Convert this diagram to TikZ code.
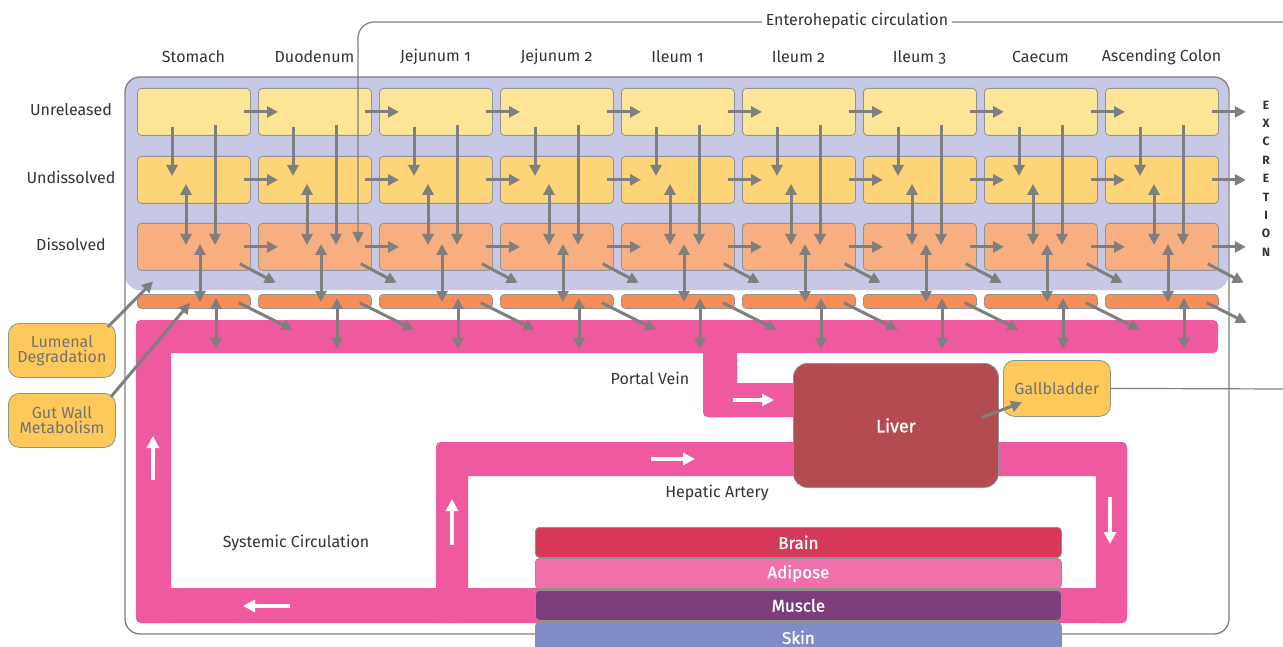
\documentclass[tikz,border=0pt]{standalone}
\usepackage{fontspec}
\setmainfont[Numbers=OldStyle]{Fira Sans}
\newfontfamily\semib[FakeBold=1.2]{Fira Sans}
\usetikzlibrary{arrows.meta}

\definecolor{lav}{HTML}{C6C8E5}
\definecolor{unrel}{HTML}{FDE598}
\definecolor{undis}{HTML}{FDD478}
\definecolor{dis}{HTML}{F7AE80}
\definecolor{gutw}{HTML}{F58F57}
\definecolor{blood}{HTML}{EF59A0}
\definecolor{liverc}{HTML}{B34C50}
\definecolor{gall}{HTML}{FDC95A}
\definecolor{brainc}{HTML}{D63957}
\definecolor{adip}{HTML}{F070A9}
\definecolor{musc}{HTML}{7B3E7B}
\definecolor{skinc}{HTML}{7F8CC5}
\definecolor{arr}{HTML}{7F7F7F}
\definecolor{txt}{HTML}{333333}

\tikzset{
  box/.style={draw=arr!85, line width=0.8pt, rounded corners=4pt, anchor=north west, inner sep=0pt},
  flow/.style={draw=arr, line width=3pt, ->},
  flowb/.style={draw=arr, line width=3pt, <->},
  wflow/.style={draw=white, line width=3.2pt, -{Triangle[length=12pt,width=12pt]}},
  organ/.style={box, minimum width=526pt, minimum height=30pt, text=white, font=\semib\fontsize{17}{18}\selectfont},
  tag/.style={box, fill=gall, rounded corners=11pt, minimum width=107pt, minimum height=54pt, align=center, text=arr!90!black, font=\fontsize{16}{17}\selectfont},
  bloodbar/.style={fill=blood, rounded corners=5pt}
}

\begin{document}
\begin{tikzpicture}[x=1pt, y=-1pt, font=\fontsize{16}{18}\selectfont, text=txt, line join=round, >={Triangle[length=11pt,width=11pt]}]
  \def\bw{113pt} \def\gap{121} \def\xo{137}
  \useasboundingbox (0,0) rectangle (1283,647);

  % lumen panel and frame
  \node[fill=lav, rounded corners=15pt, minimum width=1103pt, minimum height=213pt, anchor=north west, inner sep=0pt] (gut) at (125,77) {};
  \draw[arr, line width=1.3pt, rounded corners=15pt] (125,77) rectangle (1229,634);

  % compartments
  \foreach \i in {1,...,9}{
    \pgfmathsetmacro\x{\xo+\gap*(\i-1)}
    \node[box, fill=unrel, minimum width=\bw, minimum height=47pt] (u\i) at (\x,88) {};
    \node[box, fill=undis, minimum width=\bw, minimum height=47pt] (n\i) at (\x,156) {};
    \node[box, fill=dis, minimum width=\bw, minimum height=47pt] (d\i) at (\x,223) {};
    \node[box, fill=gutw, minimum width=\bw, minimum height=14pt] (g\i) at (\x,294) {};
  }

  % blood vessels
  \fill[bloodbar] (136,320) rectangle (1218,353);
  \fill[bloodbar] (136,320) rectangle (171,623);
  \fill[bloodbar] (136,588) rectangle (1127,623);
  \fill[bloodbar] (436,442) rectangle (468,623);
  \fill[bloodbar] (436,442) rectangle (1127,476);
  \fill[bloodbar] (1096,442) rectangle (1127,623);
  \fill[bloodbar] (703,320) rectangle (737,417);
  \fill[bloodbar] (703,383) rectangle (810,417);

  \draw[wflow] (733,400) -- (774,400);
  \draw[wflow] (651,459) -- (695,459);
  \draw[wflow] (452,545) -- (452,499);
  \draw[wflow] (1110,497) -- (1110,544);
  \draw[wflow] (153,480) -- (153,436);
  \draw[wflow] (290,606) -- (243,606);

  % transit along the gut
  \foreach \i [evaluate=\i as \j using int(\i+1)] in {1,...,8}{
    \draw[flow] ([xshift=-7pt]u\i.east) -- ([xshift=20pt]u\j.west);
    \draw[flow] ([xshift=-7pt]n\i.east) -- ([xshift=20pt]n\j.west);
    \draw[flow] ([xshift=-7pt]d\i.east) -- ([xshift=20pt]d\j.west);
  }
  \draw[flow] ([xshift=-7pt]u9.east) -- ([xshift=27pt]u9.east);
  \draw[flow] ([xshift=-7pt]n9.east) -- ([xshift=27pt]n9.east);
  \draw[flow] ([xshift=-7pt]d9.east) -- ([xshift=27pt]d9.east);

  % release, dissolution, absorption
  \foreach \i in {1,...,9}{
    \draw[flow] ([xshift=35pt,yshift=9pt]u\i.south west) -- ([xshift=35pt,yshift=-20pt]n\i.north west);
    \draw[flow] ([xshift=78pt,yshift=11pt]u\i.south west) -- ([xshift=78pt,yshift=-22pt]d\i.north west);
    \draw[flowb] ([xshift=49pt,yshift=20pt]n\i.south west) -- ([xshift=49pt,yshift=-22pt]d\i.north west);
    \draw[flowb] ([xshift=63pt,yshift=-21pt]d\i.north west) -- ([xshift=63pt,yshift=-8pt]g\i.north west);
    \draw[flowb] ([xshift=79pt,yshift=-4pt]g\i.north west) -- ([xshift=79pt,yshift=-40pt]g\i.south west);
    \draw[flow] ([xshift=-11pt,yshift=7pt]d\i.south east) -- ([xshift=25pt,yshift=-12pt]d\i.south east);
    \ifnum\i<9
      \draw[flow] ([xshift=-12pt,yshift=6pt]g\i.south east) -- ([xshift=42pt,yshift=-21pt]g\i.south east);
    \else
      \draw[flow] ([xshift=-12pt,yshift=6pt]g\i.south east) -- ([xshift=28pt,yshift=-14pt]g\i.south east);
    \fi
  }

  % tissues
  \node[organ, fill=brainc] (brain) at (535,527) {Brain};
  \node[organ, fill=adip] (adipose) at (535,558) {Adipose};
  \node[organ, fill=musc] (muscle) at (535,590) {Muscle};
  \node[organ, fill=skinc] (skin) at (535,622) {Skin};

  \node[box, fill=liverc, rounded corners=14pt, minimum width=205pt, minimum height=124pt, text=white, font=\semib\fontsize{18}{20}\selectfont] (liver) at (793,363) {Liver};
  \node[tag, minimum width=107pt, minimum height=56pt] (gb) at (1003,360) {Gallbladder};
  \draw[flow] ([xshift=-17pt,yshift=8pt]liver.east) -- ([xshift=19pt,yshift=-14pt]gb.west);

  % enterohepatic circulation
  \coordinate (ehR) at (1283,22);
  \coordinate (gbR) at (1283,389);
  \draw[arr, line width=1.2pt] (gb.east) -- (gbR);
  \draw[arr, line width=1.2pt, rounded corners=16pt, -{Triangle[length=11pt,width=11pt]}] (ehR) -- (358,22) -- ([xshift=100pt,yshift=-20pt]d2.north west);
  \node[fill=white, inner sep=4pt] (ehc) at (857,21) {Enterohepatic circulation};

  % side labels
  \node[tag] (lum) at (8,323) {Lumenal\\[-2pt]Degradation};
  \node[tag] (gwm) at (8,393) {Gut Wall\\[-2pt]Metabolism};
  \draw[flow] ([xshift=-8pt,yshift=-4pt]lum.north east) -- ([xshift=28pt,yshift=9pt]gut.south west);
  \draw[flow] ([xshift=-5pt,yshift=-4pt]gwm.north east) -- ([xshift=53pt,yshift=6pt]g1.south west);

  \foreach \t [count=\i] in {Stomach,Duodenum,Jejunum 1,Jejunum 2,Ileum 1,Ileum 2,Ileum 3,Caecum,Ascending Colon}
    \node (h\i) at ({193.5+\gap*(\i-1)},57) {\t};
  \node (r1) at (71,110) {Unreleased};
  \node (r2) at (71,177) {Undissolved};
  \node (r3) at (71,244) {Dissolved};
  \foreach \c [count=\k] in {E,X,C,R,E,T,I,O,N}
    \node[font=\bfseries\fontsize{12}{13}\selectfont] (ex\k) at (1266,{105+18.4*(\k-1)}) {\c};

  \node (pv) at (650,378) {Portal Vein};
  \node (ha) at (717,493) {Hepatic Artery};
  \node (sc) at (296,543) {Systemic Circulation};
\end{tikzpicture}
\end{document}
